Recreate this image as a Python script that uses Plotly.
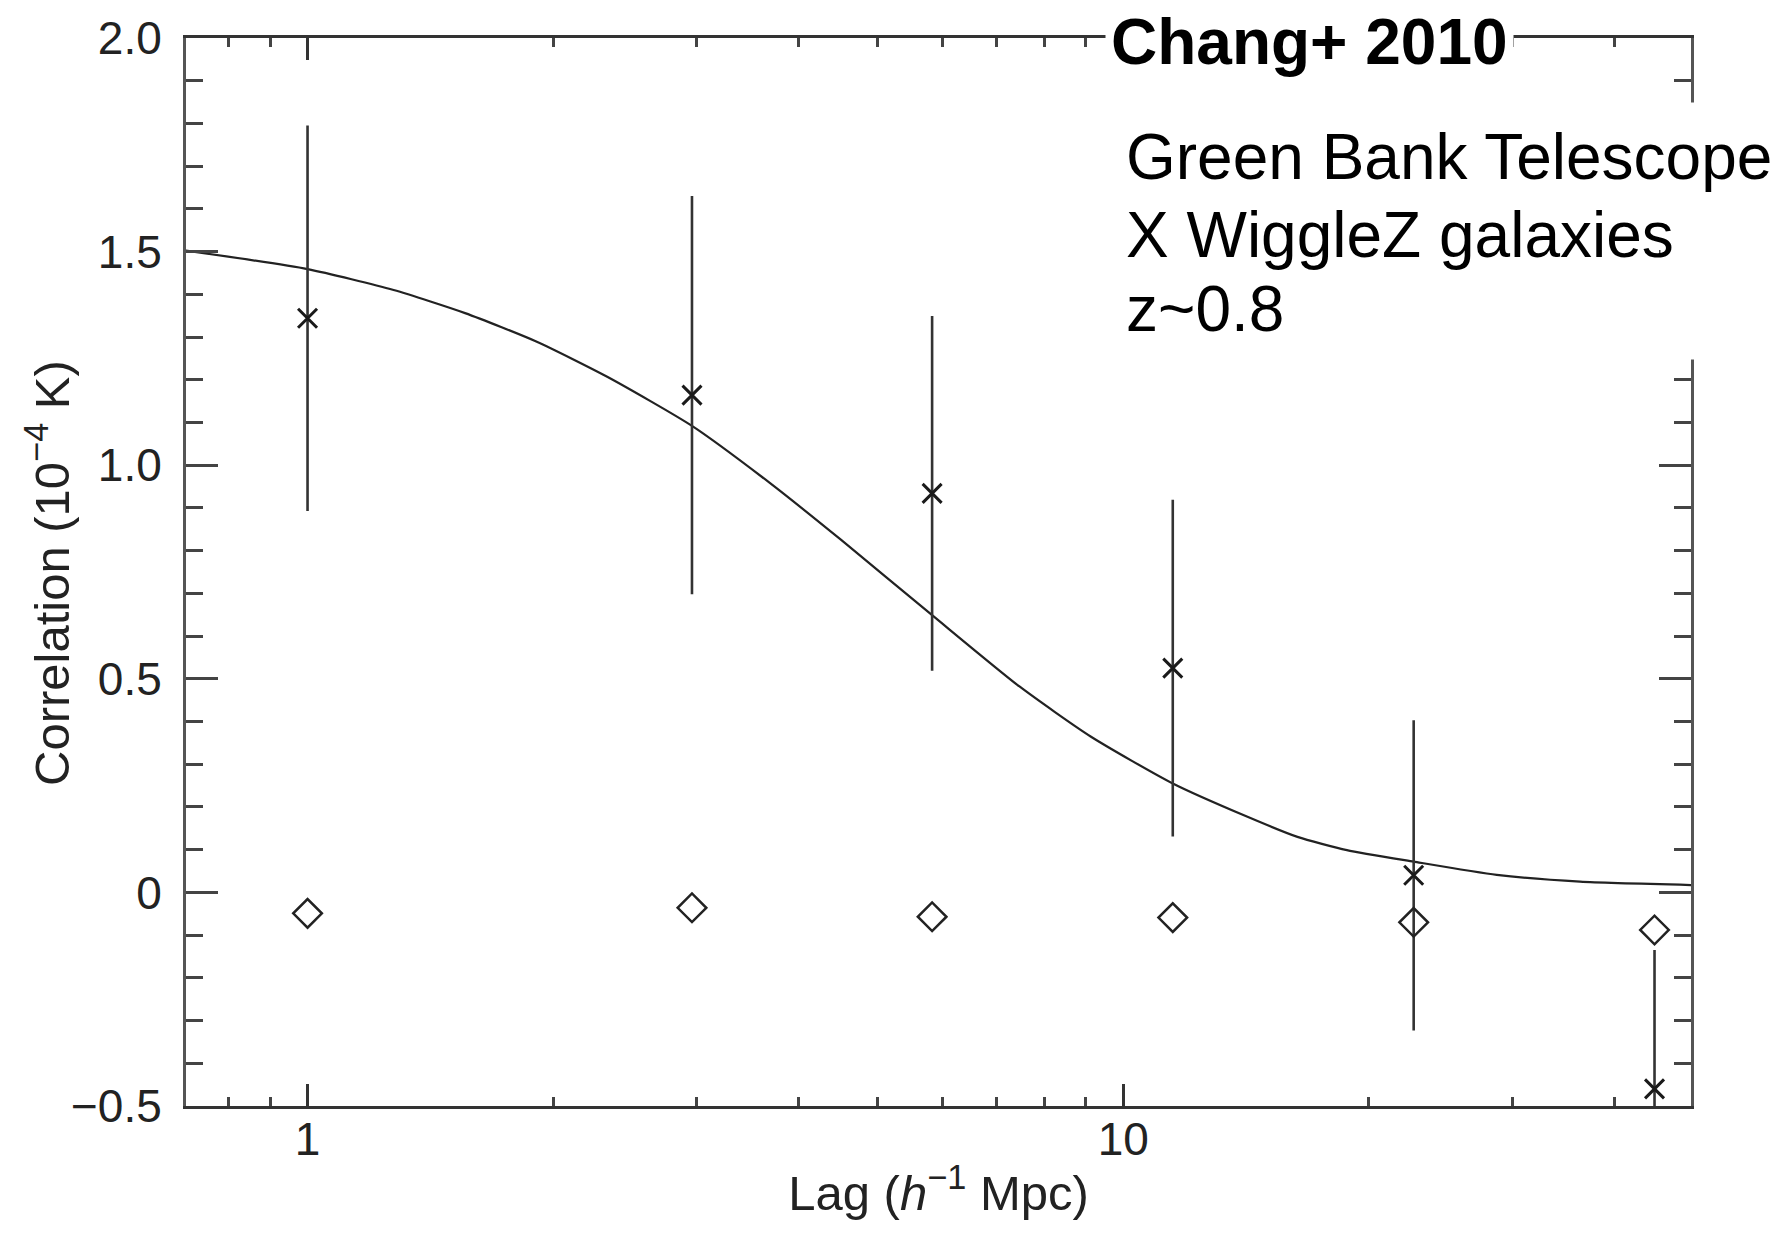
import plotly.graph_objects as go

# ---- data ----
lag = [1.0, 2.96, 5.83, 11.5, 22.7, 44.8]
corr_cross = [1.344, 1.164, 0.934, 0.525, 0.04, -0.46]
corr_err = [0.451, 0.466, 0.415, 0.394, 0.363, 0.325]
corr_auto = [-0.049, -0.036, -0.057, -0.059, -0.07, -0.088]

model_lag = [0.7, 1.0, 1.275, 1.56, 1.91, 2.33, 2.96, 3.69, 4.51, 5.83, 7.46,
             9.12, 11.5, 14.2, 16.35, 18.8, 22.7, 28.7, 36.3, 50]
model_corr = [1.504, 1.459, 1.410, 1.356, 1.289, 1.207, 1.092, 0.958, 0.825,
              0.649, 0.482, 0.365, 0.255, 0.177, 0.130, 0.099, 0.072, 0.041,
              0.025, 0.017]

y_tickvals = [-0.5, 0, 0.5, 1.0, 1.5, 2.0]
y_ticktext = ["\u22120.5", "0", "0.5", "1.0", "1.5", "2.0"]
x_tickvals = [1, 10]
x_ticktext = ["1", "10"]
x_minor = [0.7, 0.8, 0.9, 2, 3, 4, 5, 6, 7, 8, 9, 20, 30, 40, 50]

note_lines = ["Green Bank Telescope", "X WiggleZ galaxies", "z~0.8"]
note_centers_px = [157, 235, 309]

FONT = "Liberation Sans, Arial, Helvetica, sans-serif"

fig = go.Figure()

fig.add_trace(go.Scatter(
    x=model_lag, y=model_corr, mode="lines",
    line=dict(color="#222222", width=2.2, shape="spline", smoothing=0.6),
    showlegend=False, hoverinfo="skip"))

fig.add_trace(go.Scatter(
    x=lag, y=corr_cross, mode="markers",
    marker=dict(symbol="x-thin", size=19, color="#1a1a1a",
                line=dict(color="#1a1a1a", width=3)),
    error_y=dict(type="data", array=corr_err, symmetric=True,
                 color="#333333", thickness=2.6, width=0),
    showlegend=False))

fig.add_trace(go.Scatter(
    x=lag, y=corr_auto, mode="markers",
    marker=dict(symbol="diamond-open", size=22, color="#222222",
                line=dict(color="#222222", width=2.5)),
    showlegend=False))

x0, x1 = 186, 1691
y0, y1 = 38, 1106
W, H = 1788, 1233


def px_to_paper_x(px):
    return (px - x0) / (x1 - x0)


def px_to_paper_y(py):
    return (y1 - py) / (y1 - y0)


# white box interrupting the right axis behind the note
fig.add_annotation(
    text=" ", xref="paper", yref="paper",
    x=px_to_paper_x(1691), y=px_to_paper_y(231),
    xanchor="center", yanchor="middle", showarrow=False,
    width=60, height=256, bgcolor="white", borderpad=0,
    font=dict(size=10))

fig.add_annotation(
    text="<b>Chang+ 2010</b>", xref="paper", yref="paper",
    x=px_to_paper_x(1309), y=px_to_paper_y(42),
    xanchor="center", yanchor="middle", showarrow=False,
    font=dict(family=FONT, size=64, color="black"),
    bgcolor="white", borderpad=5)

for line, cy in zip(note_lines, note_centers_px):
    fig.add_annotation(
        text=line, xref="paper", yref="paper",
        x=px_to_paper_x(1124), y=px_to_paper_y(cy),
        xanchor="left", yanchor="middle", align="left", showarrow=False,
        font=dict(family=FONT, size=64, color="black"))

# y-axis title as a rotated annotation for exact placement
fig.add_annotation(
    text="Correlation (10<sup>\u22124</sup> K)", xref="paper", yref="paper",
    x=px_to_paper_x(48), y=px_to_paper_y(573),
    xanchor="center", yanchor="middle", textangle=-90, showarrow=False,
    font=dict(family=FONT, size=49, color="#222222"))

axis_common = dict(
    showgrid=False, zeroline=False, showline=True, mirror="ticks",
    ticks="inside", tickwidth=2.5,
    tickfont=dict(family=FONT, size=46, color="#222222"),
)

fig.update_xaxes(
    type="log", range=[-0.149, 1.696],
    tickvals=x_tickvals, ticktext=x_ticktext,
    ticklen=22, linecolor="#333333", linewidth=3, tickcolor="#333333",
    minor=dict(ticks="inside", tickvals=x_minor, ticklen=9,
               tickcolor="#444444", tickwidth=2.5),
    title=dict(text="Lag (<i>h</i><sup>\u22121</sup> Mpc)",
               font=dict(family=FONT, size=49, color="#222222"), standoff=12),
    ticklabelstandoff=-9,
    **axis_common)

fig.update_yaxes(
    range=[-0.5, 2.0],
    tickvals=y_tickvals, ticktext=y_ticktext,
    ticklen=32, linecolor="#555555", linewidth=3, tickcolor="#444444",
    minor=dict(ticks="inside", dtick=0.1, ticklen=17,
               tickcolor="#444444", tickwidth=2.5),
    ticklabelstandoff=12,
    **axis_common)

fig.update_layout(
    width=W, height=H, autosize=False,
    margin=dict(l=x0, r=W - x1, t=y0, b=H - y1, pad=0),
    plot_bgcolor="white", paper_bgcolor="white",
    showlegend=False,
)

fig.write_html("out.html")
